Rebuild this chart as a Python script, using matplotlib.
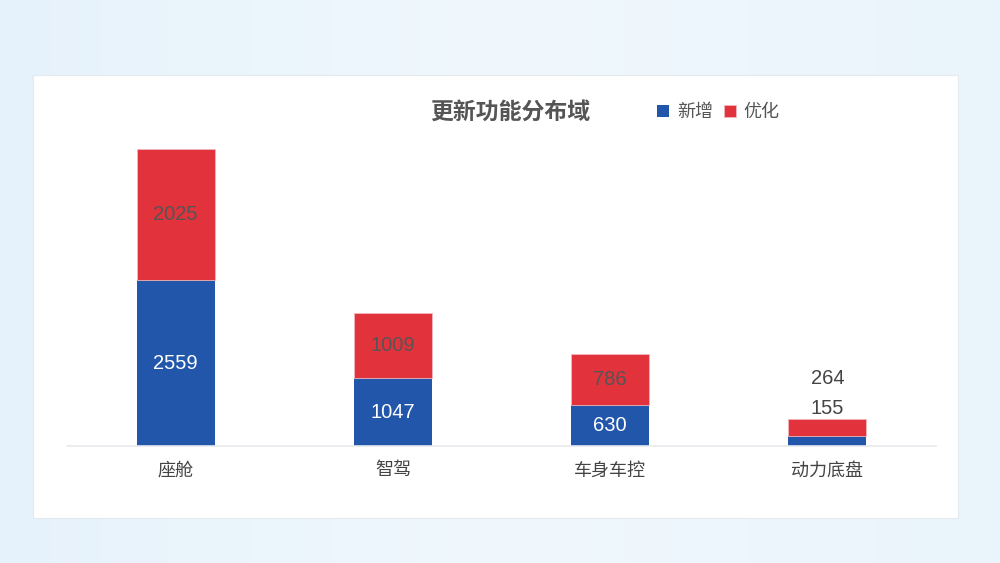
import numpy as np
import matplotlib.pyplot as plt
from matplotlib.patches import Rectangle
from matplotlib.colors import LinearSegmentedColormap

plt.rcParams['font.family'] = ['Noto Sans CJK SC', 'DejaVu Sans']

# --- 数据 ---
categories = ["座舱", "智驾", "车身车控", "动力底盘"]
new_vals = [2559, 1047, 630, 155]      # 新增
opt_vals = [2025, 1009, 786, 264]      # 优化
title = "更新功能分布域"
legend_labels = ["新增", "优化"]

BLUE = "#2156aa"
RED = "#e2323c"
NUM_FONT = ['Liberation Sans', 'DejaVu Sans']

fig = plt.figure(figsize=(10, 5.63), dpi=100)

# 背景渐变
bg = fig.add_axes([0, 0, 1, 1])
grad = np.linspace(0, 1, 256).reshape(1, -1)
bg.imshow(grad, aspect='auto', extent=[0, 1, 0, 1],
          cmap=LinearSegmentedColormap.from_list("bg", ["#e6f2fb", "#f0f8fd", "#eaf4fb"]))
bg.set_xlim(0, 1)
bg.set_ylim(0, 1)
bg.axis('off')
# 白色面板
bg.add_patch(Rectangle((33 / 1000, 1 - 518 / 563), 925 / 1000, 443 / 563,
                       facecolor='white', edgecolor='#e3eaf0', linewidth=0.8))

ax = fig.add_axes([0.067, 117 / 563, 0.869, 324 / 563])
ax.set_facecolor('none')
x = np.arange(len(categories))
w = 0.36
ax.bar(x, new_vals, w, color=BLUE, label=legend_labels[0], zorder=2)
ax.bar(x, opt_vals, w, bottom=new_vals, color=RED, label=legend_labels[1],
       edgecolor='#f0b8bc', linewidth=0.6, zorder=2)

ax.set_xlim(-0.5, len(categories) - 0.5)
ax.set_ylim(0, 5000)

# 数值标签：大段放在段中间，太小的放到柱子上方
for i, (n, o) in enumerate(zip(new_vals, opt_vals)):
    if n > 400:
        ax.text(i, n / 2, str(n), ha='center', va='center', color='white',
                fontsize=14.5, family=NUM_FONT)
        ax.text(i, n + o / 2, str(o), ha='center', va='center', color='#555555',
                fontsize=14.5, family=NUM_FONT)
    else:
        ax.text(i, n + o + 20, str(n), ha='center', va='bottom', color='#444444',
                fontsize=14.5, family=NUM_FONT)
        ax.text(i, n + o + 470, str(o), ha='center', va='bottom', color='#444444',
                fontsize=14.5, family=NUM_FONT)

for s in ['top', 'right', 'left']:
    ax.spines[s].set_visible(False)
ax.spines['bottom'].set_color('#e6e9ec')
ax.spines['bottom'].set_linewidth(1.2)
ax.set_yticks([])
ax.set_xticks(x)
ax.set_xticklabels(categories, fontsize=13, color='#444444')
ax.tick_params(axis='x', length=0, pad=11)

fig.text(0.51, 1 - 112 / 563, title, ha='center', va='center',
         fontsize=16.5, fontweight='bold', color='#555555')
fig.legend(loc='center left', bbox_to_anchor=(0.641, 1 - 112 / 563), ncol=2,
           frameon=False, fontsize=13, handlelength=0.65, handleheight=0.65,
           columnspacing=0.6, handletextpad=0.45, labelcolor='#555555')

plt.savefig("out.png", dpi=100)
